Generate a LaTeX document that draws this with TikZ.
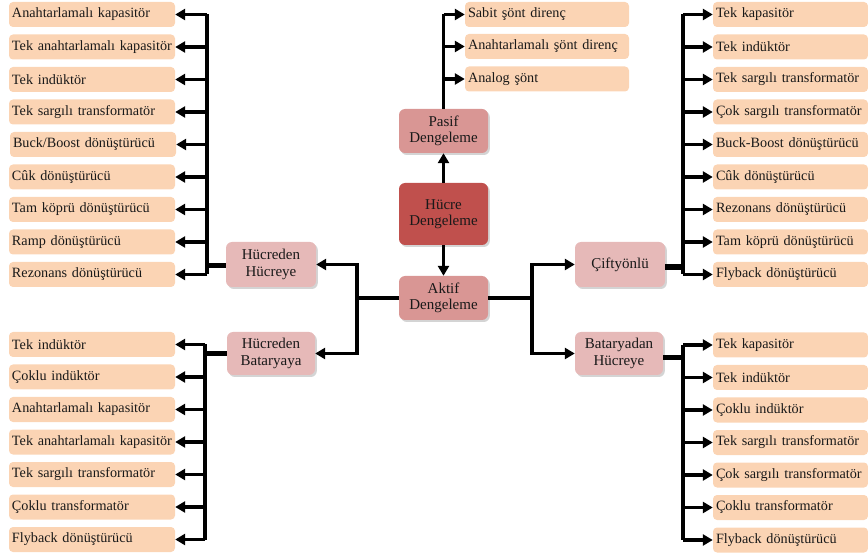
\documentclass[tikz,border=0pt]{standalone}
\usepackage{fontspec}
\setmainfont{Liberation Serif}
\usetikzlibrary{arrows.meta,shadows}
\definecolor{leafc}{HTML}{FBD4B4}
\definecolor{lvltwo}{HTML}{E6B9B8}
\definecolor{lvlone}{HTML}{D99694}
\definecolor{rootc}{HTML}{C0504D}
\begin{document}
\begin{tikzpicture}[x=1pt,y=-1pt,
  every node/.style={font=\fontsize{14.2}{16}\selectfont, text=black!90},
  leaf/.style={rectangle, rounded corners=4pt, fill=leafc, minimum height=25pt, inner xsep=3pt, inner ysep=0pt, align=left},
  leafL/.style={leaf, text width=160pt},
  leafP/.style={leaf, text width=158pt},
  leafR/.style={leaf, text width=149pt},
  mid/.style={rectangle, rounded corners=6pt, align=center, inner sep=1pt,
    font=\fontsize{15}{16.5}\selectfont,
    drop shadow={shadow xshift=1.8pt, shadow yshift=-2pt, opacity=0.28, fill=black!60}},
  lvtwo/.style={mid, fill=lvltwo, minimum width=90pt, minimum height=45pt},
  lvone/.style={mid, fill=lvlone, minimum width=89pt, minimum height=44pt},
  ln/.style={line width=3.4pt, black},
  bar/.style={line width=5.5pt, black},
  arr/.style={line width=3.4pt, black, -{Triangle[length=10pt,width=11pt]}},
]
\useasboundingbox (0,0) rectangle (868,553);

% central column
\node[mid, fill=rootc, minimum width=89pt, minimum height=62pt] (hucre) at (443.5,214) {Hücre\\Dengeleme};
\node[lvone] (pasif) at (443.5,131) {Pasif\\Dengeleme};
\node[lvone] (aktif) at (443.5,298) {Aktif\\Dengeleme};

% passive leaves
\node[leafP] (p1) at (547,14.5) {Sabit şönt direnç};
\node[leafP] (p2) at (547,46.5) {Anahtarlamalı şönt direnç};
\node[leafP] (p3) at (547,79) {Analog şönt};

% level two
\node[lvtwo] (hh) at (271,264.5) {Hücreden\\Hücreye};
\node[lvtwo, minimum width=88pt, minimum height=43pt] (hb) at (271,353.5) {Hücreden\\Bataryaya};
\node[lvtwo] (cift) at (620,264.5) {Çiftyönlü};
\node[lvtwo, minimum width=88pt, minimum height=43pt] (bh) at (619,353.5) {Bataryadan\\Hücreye};

% left-top leaves
\node[leafL] (a1) at (92,14.5) {Anahtarlamalı kapasitör};
\node[leafL] (a2) at (92,47) {Tek anahtarlamalı kapasitör};
\node[leafL] (a3) at (92,79.5) {Tek indüktör};
\node[leafL] (a4) at (92,112) {Tek sargılı transformatör};
\node[leafL] (a5) at (93,144.5) {Buck/Boost dönüştürücü};
\node[leafL] (a6) at (92,177) {Cûk dönüştürücü};
\node[leafL] (a7) at (92,209.5) {Tam köprü dönüştürücü};
\node[leafL] (a8) at (92,242) {Ramp dönüştürücü};
\node[leafL] (a9) at (92,274.5) {Rezonans dönüştürücü};

% left-bottom leaves
\node[leafL] (b1) at (92,344.5) {Tek indüktör};
\node[leafL] (b2) at (92,377) {Çoklu indüktör};
\node[leafL] (b3) at (92,409.5) {Anahtarlamalı kapasitör};
\node[leafL] (b4) at (92,442) {Tek anahtarlamalı kapasitör};
\node[leafL] (b5) at (92,474.5) {Tek sargılı transformatör};
\node[leafL] (b6) at (92,507) {Çoklu transformatör};
\node[leafL] (b7) at (92,539.5) {Flyback dönüştürücü};

% right-top leaves
\node[leafR] (c1) at (790.5,14.5) {Tek kapasitör};
\node[leafR] (c2) at (790.5,47) {Tek indüktör};
\node[leafR] (c3) at (790.5,79.5) {Tek sargılı transformatör};
\node[leafR] (c4) at (790.5,112) {Çok sargılı transformatör};
\node[leafR] (c5) at (790.5,144.5) {Buck-Boost dönüştürücü};
\node[leafR] (c6) at (790.5,177) {Cûk dönüştürücü};
\node[leafR] (c7) at (790.5,209.5) {Rezonans dönüştürücü};
\node[leafR] (c8) at (790.5,242) {Tam köprü dönüştürücü};
\node[leafR] (c9) at (790.5,274.5) {Flyback dönüştürücü};

% right-bottom leaves
\node[leafR] (d1) at (790.5,345) {Tek kapasitör};
\node[leafR] (d2) at (790.5,377.5) {Tek indüktör};
\node[leafR] (d3) at (790.5,410) {Çoklu indüktör};
\node[leafR] (d4) at (790.5,442.5) {Tek sargılı transformatör};
\node[leafR] (d5) at (790.5,475) {Çok sargılı transformatör};
\node[leafR] (d6) at (790.5,507.5) {Çoklu transformatör};
\node[leafR] (d7) at (790.5,540) {Flyback dönüştürücü};

% bus coordinates
\coordinate (busA) at (207,0);
\coordinate (busB) at (205,0);
\coordinate (busC) at (683,0);
\coordinate (busD) at (683,0);
\coordinate (jl) at (357,298);
\coordinate (jr) at (532,298);

% central connectors
\draw[arr] (hucre.north) -- (pasif.south);
\draw[arr] (hucre.south) -- (aktif.north);
\draw[ln] (pasif.north) -- (pasif.north |- p1.west);
\foreach \p in {p1,p2,p3} \draw[arr] (pasif.north |- \p.west) -- (\p.west);
\draw[arr] (aktif.west) -- (jl) |- (hh.east);
\draw[arr] (jl) |- (hb.east);
\draw[arr] (aktif.east) -- (jr) |- (cift.west);
\draw[arr] (jr) |- (bh.west);

% left-top bus
\draw[ln] (busA |- a1.east) -- (busA |- a9.east);
\foreach \n in {a1,a2,a3,a4,a5,a6,a7,a8,a9} \draw[arr] (busA |- \n.east) -- (\n.east);
\draw[bar] ([yshift=-1pt]hh.west) -- ([yshift=-1pt]hh.west -| busA);

% left-bottom bus
\draw[ln] (busB |- b1.east) -- (busB |- b7.east);
\foreach \n in {b1,b2,b3,b4,b5,b6,b7} \draw[arr] (busB |- \n.east) -- (\n.east);
\draw[bar] (hb.west) -- (hb.west -| busB);

% right-top bus
\draw[ln] (busC |- c1.west) -- (busC |- c9.west);
\foreach \n in {c1,c2,c3,c4,c5,c6,c7,c8,c9} \draw[arr] (busC |- \n.west) -- (\n.west);
\draw[bar] ([yshift=-2.5pt]cift.east) -- ([yshift=-2.5pt]cift.east -| busC);

% right-bottom bus
\draw[ln] (busD |- d1.west) -- (busD |- d7.west);
\foreach \n in {d1,d2,d3,d4,d5,d6,d7} \draw[arr] (busD |- \n.west) -- (\n.west);
\draw[bar] ([yshift=-4pt]bh.east) -- ([yshift=-4pt]bh.east -| busD);
\end{tikzpicture}
\end{document}
